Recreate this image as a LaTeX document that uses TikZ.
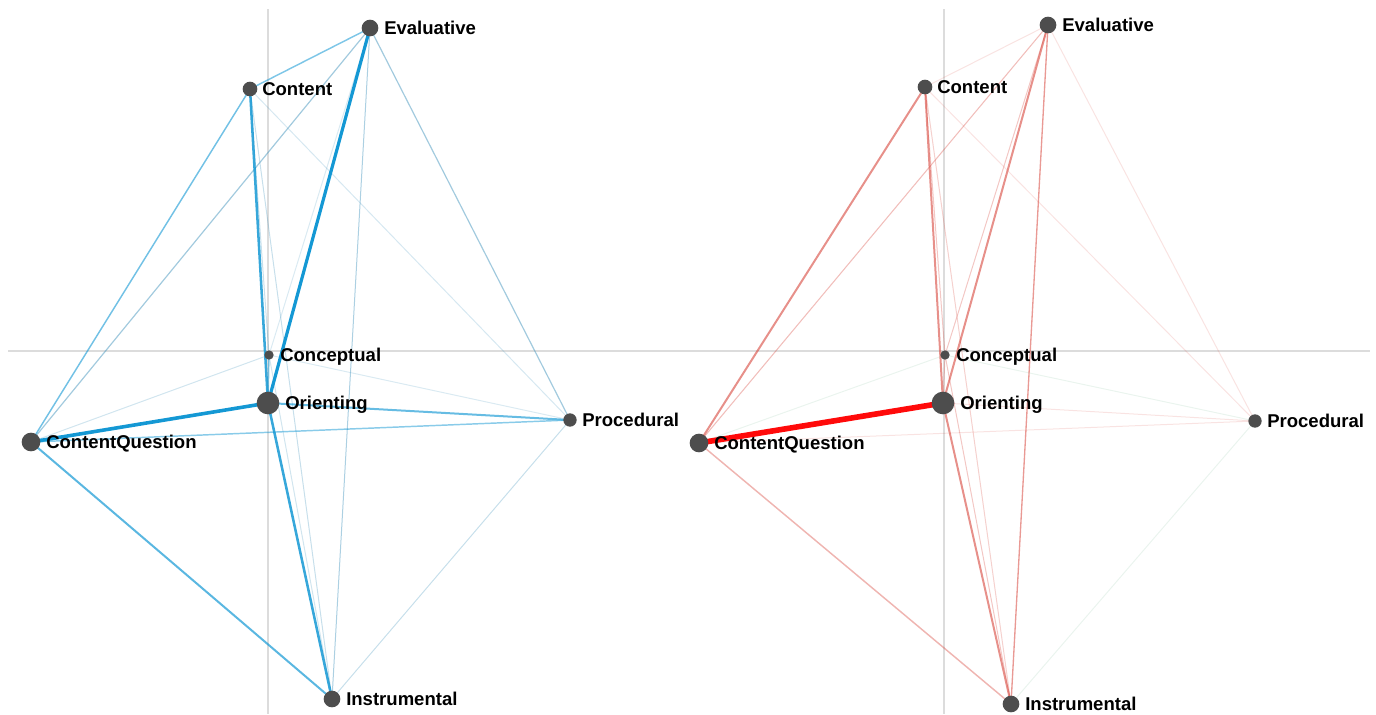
\documentclass[tikz,border=0pt]{standalone}
\usepackage{fontspec}
\setmainfont{Liberation Sans}
\pgfdeclarelayer{bg}
\pgfsetlayers{bg,main}
\definecolor{bluec}{RGB}{20,152,212}
\definecolor{thinblue}{RGB}{70,150,190}
\definecolor{redc}{RGB}{215,70,60}
\definecolor{brightred}{RGB}{255,10,10}
\definecolor{greenc}{RGB}{150,200,170}
\definecolor{dotc}{RGB}{77,77,77}
\definecolor{axisc}{RGB}{220,220,220}
\tikzset{
  dot/.style={circle, fill=dotc, inner sep=0pt, minimum size=#1},
  lbl/.style={anchor=base west, inner sep=0pt, font=\fontsize{13.9}{16}\selectfont\bfseries, text=black},
  axisline/.style={draw=axisc, line width=1.2pt},
  be/.style 2 args={draw=bluec, line width=#1, draw opacity=#2},
  tb/.style 2 args={draw=thinblue, line width=#1, draw opacity=#2},
  re/.style 2 args={draw=redc, line width=#1, draw opacity=#2},
  ge/.style={draw=greenc, line width=0.75pt, draw opacity=0.2},
}
\begin{document}
\begin{tikzpicture}[x=0.75pt, y=-0.75pt]
\useasboundingbox (0,0) rectangle (1376,714);

% ---------- left panel nodes ----------
\coordinate (LAt) at (268,9);
\coordinate (LAb) at (268,714);
\coordinate (LAl) at (8,351);
\coordinate (LAr) at (688,351);
\node[dot=12.5pt] (LEv) at (370,28) {};
\node[dot=11pt] (LCo) at (250,89) {};
\node[dot=7pt] (LCp) at (269,355) {};
\node[dot=17pt] (LOr) at (268,403) {};
\node[dot=10pt] (LPr) at (570,420) {};
\node[dot=14pt] (LCQ) at (31,442) {};
\node[dot=12.5pt] (LIn) at (332,699) {};
\node[lbl] (LEvl) at (384,34.5) {Evaluative};
\node[lbl] (LCol) at (262,95.5) {Content};
\node[lbl] (LCpl) at (280,361.5) {Conceptual};
\node[lbl] (LOrl) at (285,409.5) {Orienting};
\node[lbl] (LPrl) at (582,426.5) {Procedural};
\node[lbl] (LCQl) at (46,448.5) {ContentQuestion};
\node[lbl] (LInl) at (346,705.5) {Instrumental};

% ---------- right panel nodes ----------
\coordinate (RAt) at (944,9);
\coordinate (RAb) at (944,714);
\coordinate (RAl) at (688,351);
\coordinate (RAr) at (1370,351);
\node[dot=12.5pt] (REv) at (1048,25) {};
\node[dot=11pt] (RCo) at (925,87) {};
\node[dot=7pt] (RCp) at (945,355) {};
\node[dot=17pt] (ROr) at (943,403) {};
\node[dot=10pt] (RPr) at (1255,421) {};
\node[dot=14pt] (RCQ) at (699,443) {};
\node[dot=12.5pt] (RIn) at (1011,704) {};
\node[lbl] (REvl) at (1062,31.5) {Evaluative};
\node[lbl] (RCol) at (937,93.5) {Content};
\node[lbl] (RCpl) at (956,361.5) {Conceptual};
\node[lbl] (ROrl) at (960,409.5) {Orienting};
\node[lbl] (RPrl) at (1267,427.5) {Procedural};
\node[lbl] (RCQl) at (714,449.5) {ContentQuestion};
\node[lbl] (RInl) at (1025,710.5) {Instrumental};

\begin{pgfonlayer}{bg}
% axes
\draw[axisline] (LAt) -- (LAb);
\draw[axisline] (LAl) -- (LAr);
\draw[axisline] (RAt) -- (RAb);
\draw[axisline] (RAl) -- (RAr);

% ---------- left edges (blue) ----------
\draw[tb={0.75pt}{0.25}] (LCp.center) -- (LCQ.center);
\draw[tb={0.75pt}{0.2}] (LCp.center) -- (LPr.center);
\draw[tb={0.75pt}{0.25}] (LCp.center) -- (LIn.center);
\draw[tb={0.75pt}{0.3}] (LCo.center) -- (LCp.center);
\draw[tb={0.75pt}{0.2}] (LEv.center) -- (LCp.center);
\draw[tb={0.75pt}{0.3}] (LCo.center) -- (LIn.center);
\draw[tb={0.75pt}{0.22}] (LCo.center) -- (LPr.center);
\draw[tb={0.75pt}{0.3}] (LPr.center) -- (LIn.center);
\draw[tb={0.75pt}{0.45}] (LEv.center) -- (LIn.center);
\draw[tb={0.9pt}{0.5}] (LEv.center) -- (LCQ.center);
\draw[tb={0.9pt}{0.5}] (LEv.center) -- (LPr.center);
\draw[be={1.1pt}{0.5}] (LCQ.center) -- (LPr.center);
\draw[be={1.1pt}{0.55}] (LEv.center) -- (LCo.center);
\draw[be={1.1pt}{0.6}] (LCo.center) -- (LCQ.center);
\draw[be={1.5pt}{0.65}] (LOr.center) -- (LPr.center);
\draw[be={1.5pt}{0.7}] (LCQ.center) -- (LIn.center);
\draw[be={1.1pt}{0.5}] (LCp.center) -- (LOr.center);
\draw[be={1.9pt}{0.85}] (LCo.center) -- (LOr.center);
\draw[be={1.9pt}{0.85}] (LOr.center) -- (LIn.center);
\draw[be={2.4pt}{1}] (LEv.center) -- (LOr.center);
\draw[be={2.7pt}{1}] (LCQ.center) -- (LOr.center);

% ---------- right edges (red) ----------
\draw[ge] (RCp.center) -- (RCQ.center);
\draw[ge] (RCp.center) -- (RPr.center);
\draw[ge] (RPr.center) -- (RIn.center);
\draw[re={0.75pt}{0.15}] (REv.center) -- (RCo.center);
\draw[re={0.75pt}{0.15}] (RCo.center) -- (RPr.center);
\draw[re={0.75pt}{0.15}] (REv.center) -- (RPr.center);
\draw[re={0.75pt}{0.15}] (ROr.center) -- (RPr.center);
\draw[re={0.75pt}{0.15}] (RCQ.center) -- (RPr.center);
\draw[re={0.75pt}{0.3}] (RCp.center) -- (ROr.center);
\draw[re={0.75pt}{0.25}] (RCo.center) -- (RIn.center);
\draw[re={0.75pt}{0.3}] (RCp.center) -- (RIn.center);
\draw[re={0.75pt}{0.3}] (REv.center) -- (RCp.center);
\draw[re={0.75pt}{0.3}] (RCo.center) -- (RCp.center);
\draw[re={0.8pt}{0.35}] (REv.center) -- (RCQ.center);
\draw[re={1.1pt}{0.4}] (RCQ.center) -- (RIn.center);
\draw[re={1pt}{0.55}] (REv.center) -- (RIn.center);
\draw[re={1.5pt}{0.6}] (RCo.center) -- (RCQ.center);
\draw[re={1.5pt}{0.6}] (RCo.center) -- (ROr.center);
\draw[re={1.5pt}{0.6}] (REv.center) -- (ROr.center);
\draw[re={1.5pt}{0.6}] (ROr.center) -- (RIn.center);
\draw[draw=brightred, line width=4.2pt] (RCQ.center) -- (ROr.center);
\end{pgfonlayer}
\end{tikzpicture}
\end{document}
